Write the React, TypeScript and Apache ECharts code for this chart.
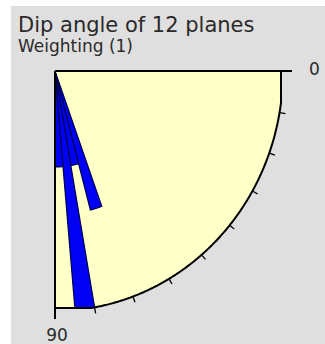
import React, { useEffect, useRef } from 'react';
import * as echarts from 'echarts';

// ---- data ----
const titleText = 'Dip angle of 12 planes';
const subtitleText = 'Weighting (1)';
const binStarts = [70, 75, 80, 85]; // dip-angle classes (deg)
const binWidth = 5;
const counts = [3, 2, 5, 2]; // planes per class
const maxCount = 5;
const arcTickAngles = [10, 20, 30, 40, 50, 60, 70, 80];
const endAngles = [0, 90];
const endLabels = ['0', '90'];

// ---- layout ----
const CX = 55;
const CY = 71;
const RX = 228; // horizontal radius px
const RY = 240; // vertical radius px
const GW = 226; // visible frame width px
const GH = 237; // visible frame height px
const FONT = '"DejaVu Sans", Verdana, sans-serif';

export default function App() {
  const ref = useRef<HTMLDivElement>(null);

  useEffect(() => {
    const chart = echarts.init(ref.current!, null, { renderer: 'svg' });
    const rad = (d: number) => (d * Math.PI) / 180;
    const clampPt = (p: number[], cs: any) => [
      Math.min(p[0], cs.x + cs.width),
      Math.min(p[1], cs.y + cs.height),
    ];
    const pt = (api: any, r: number, deg: number) =>
      api.coord([r * Math.cos(rad(deg)), r * Math.sin(rad(deg))]);
    const arcPts = (api: any, cs: any, r: number, a0: number, a1: number) => {
      const pts: number[][] = [];
      const n = Math.max(4, Math.ceil((a1 - a0) / 0.25));
      for (let i = 0; i <= n; i++) pts.push(clampPt(pt(api, r, a0 + ((a1 - a0) * i) / n), cs));
      return pts;
    };

    const option: any = {
      animation: false,
      backgroundColor: '#ffffff',
      grid: { left: CX, top: CY, width: GW, height: GH, show: false },
      xAxis: { type: 'value', min: 0, max: (maxCount * GW) / RX, show: false },
      yAxis: { type: 'value', min: 0, max: (maxCount * GH) / RY, inverse: true, show: false },
      graphic: [
        { type: 'rect', z: -10, shape: { x: 11, y: 6, width: 314, height: 338 }, style: { fill: '#dfdfdf' } },
        {
          type: 'text', z: 100, x: 18, y: 24.5,
          style: { text: titleText, fontSize: 21, fontFamily: FONT, fill: '#2a2a2a', verticalAlign: 'middle', align: 'left' },
        },
        {
          type: 'text', z: 100, x: 18, y: 46,
          style: { text: subtitleText, fontSize: 17, fontFamily: FONT, fill: '#2a2a2a', verticalAlign: 'middle', align: 'left' },
        },
      ],
      series: [
        {
          type: 'custom',
          name: 'frame',
          silent: true,
          data: [[0]],
          renderItem: (params: any, api: any) => {
            const cs = params.coordSys;
            return {
              type: 'polygon',
              shape: { points: [api.coord([0, 0]), ...arcPts(api, cs, maxCount, 0, 90)] },
              style: { fill: '#ffffc8', stroke: 'none' },
            };
          },
          z: 1,
        },
        {
          type: 'custom',
          name: 'dip',
          data: binStarts.map((s, i) => [s, s + binWidth, counts[i]]),
          renderItem: (params: any, api: any) => {
            const cs = params.coordSys;
            const pts = [api.coord([0, 0]), ...arcPts(api, cs, api.value(2), api.value(0), api.value(1))];
            return {
              type: 'polygon',
              shape: { points: pts },
              style: { fill: '#0000f4', stroke: '#000050', lineWidth: 1.2 },
            };
          },
          z: 2,
        },
        {
          type: 'custom',
          name: 'outline',
          silent: true,
          data: [[0]],
          renderItem: (params: any, api: any) => {
            const cs = params.coordSys;
            return {
              type: 'polyline',
              shape: { points: arcPts(api, cs, maxCount, 0, 90) },
              style: { fill: 'none', stroke: '#000000', lineWidth: 2 },
            };
          },
          z: 3,
        },
        {
          type: 'custom',
          name: 'ticks',
          silent: true,
          data: arcTickAngles.map((a) => [a]),
          renderItem: (params: any, api: any) => {
            const cs = params.coordSys;
            const a = api.value(0);
            const p = clampPt(pt(api, maxCount, a), cs);
            const q = [p[0] + 6 * Math.cos(rad(a)), p[1] + 6 * Math.sin(rad(a))];
            return {
              type: 'line',
              shape: { x1: p[0], y1: p[1], x2: q[0], y2: q[1] },
              style: { stroke: '#000000', lineWidth: 1.3 },
            };
          },
          z: 3,
        },
        {
          type: 'custom',
          name: 'ends',
          silent: true,
          data: endAngles.map((a, i) => [a, i]),
          renderItem: (params: any, api: any) => {
            const cs = params.coordSys;
            const a = api.value(0);
            const idx = api.value(1);
            const c = api.coord([0, 0]);
            const edge = clampPt(pt(api, maxCount, a), cs);
            const dx = Math.cos(rad(a));
            const dy = Math.sin(rad(a));
            const end = [edge[0] + 11 * dx, edge[1] + 11 * dy];
            const horizontal = Math.abs(dx) > 0.5;
            return {
              type: 'group',
              children: [
                {
                  type: 'line',
                  shape: { x1: c[0], y1: c[1], x2: end[0], y2: end[1] },
                  style: { stroke: '#000000', lineWidth: 2 },
                },
                {
                  type: 'text',
                  x: horizontal ? end[0] + 17 : end[0] + 2,
                  y: horizontal ? end[1] - 2 : end[1] + 16,
                  style: {
                    text: endLabels[idx],
                    fontSize: 17,
                    fontFamily: FONT,
                    fill: '#2a2a2a',
                    align: horizontal ? 'left' : 'center',
                    verticalAlign: 'middle',
                  },
                },
              ],
            };
          },
          z: 4,
        },
      ],
    };
    chart.setOption(option);
    return () => chart.dispose();
  }, []);

  return (
    <div
      ref={ref}
      style={{ position: 'absolute', left: 0, top: 0, width: 325, height: 344, background: '#ffffff' }}
    />
  );
}
